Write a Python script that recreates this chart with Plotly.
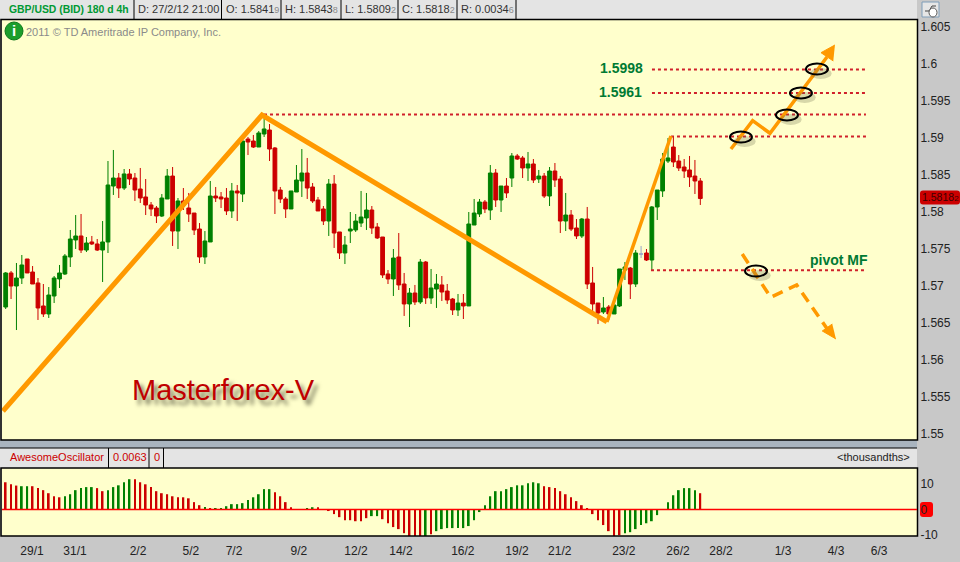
import plotly.graph_objects as go

# ---------- Data ----------
OPEN = [1.56716,1.57176,1.57000,1.57108,1.57365,1.57189,1.57041,1.56730,1.56622,1.56865,
1.57095,1.57162,1.57392,1.57622,1.57676,1.57486,1.57595,1.57568,1.57486,1.57595,
1.58351,1.58459,1.58324,1.58514,1.58459,1.58311,1.58203,1.58095,1.58054,1.57946,
1.58176,1.58486,1.57743,1.58149,1.58054,1.57986,1.57770,1.57392,1.57595,1.58216,
1.58203,1.58189,1.58014,1.58284,1.58243,1.58986,1.58959,1.58878,1.59054,1.59108,
1.58865,1.58297,1.58176,1.58041,1.58270,1.58419,1.58527,1.58338,1.58162,1.58041,
1.57878,1.58378,1.57730,1.57446,1.57743,1.57757,1.57851,1.57919,1.58027,1.57797,
1.57662,1.57162,1.57095,1.57392,1.57027,1.56757,1.56905,1.56784,1.57324,1.56838,
1.56959,1.57014,1.56932,1.56824,1.56676,1.56770,1.56730,1.57824,1.57973,1.58135,
1.58027,1.58527,1.58162,1.58351,1.58459,1.58757,1.58730,1.58595,1.58649,1.58446,
1.58486,1.58216,1.58554,1.58446,1.57878,1.57959,1.57784,1.57676,1.57905,1.57041,
1.56770,1.56649,1.56716,1.56622,1.56730,1.57216,1.57243,1.57027,1.57432,1.57446,
1.57351,1.58068,1.58284,1.58689,1.58878,1.58689,1.58608,1.58568,1.58486,1.58419]
HIGH = [1.57189,1.57203,1.57311,1.57419,1.57365,1.57270,1.57108,1.57027,1.56986,1.57135,
1.57284,1.57432,1.57757,1.57959,1.57973,1.57662,1.57676,1.57635,1.57878,1.58689,
1.58838,1.58527,1.58581,1.58581,1.58527,1.58595,1.58446,1.58135,1.58081,1.58243,
1.58581,1.58608,1.58189,1.58324,1.58257,1.57986,1.57851,1.57743,1.58419,1.58338,
1.58270,1.58324,1.58392,1.58365,1.58959,1.59014,1.59041,1.59095,1.59257,1.59189,
1.58878,1.58338,1.58203,1.58284,1.58635,1.58851,1.58730,1.58392,1.58203,1.58081,
1.58446,1.58500,1.57730,1.57676,1.58000,1.57973,1.58284,1.58257,1.58081,1.57851,
1.57662,1.57216,1.57500,1.57716,1.57176,1.56973,1.57014,1.57365,1.57338,1.57230,
1.57162,1.57135,1.57027,1.56838,1.56892,1.56892,1.58000,1.58176,1.58176,1.58162,
1.58635,1.58581,1.58351,1.58459,1.58797,1.58784,1.58757,1.58811,1.58716,1.58568,
1.58527,1.58608,1.58662,1.58486,1.58257,1.58027,1.57905,1.57919,1.58068,1.57257,
1.56770,1.56851,1.56743,1.56743,1.57230,1.57324,1.57257,1.57486,1.57541,1.57500,
1.58081,1.58297,1.58797,1.59000,1.59027,1.58770,1.58716,1.58757,1.58703,1.58459]
LOW = [1.56689,1.56824,1.56405,1.57027,1.57176,1.57027,1.56541,1.56581,1.56568,1.56770,
1.56973,1.57149,1.57257,1.57500,1.57446,1.57459,1.57554,1.57473,1.57054,1.57446,
1.58230,1.58189,1.58297,1.58365,1.58149,1.58122,1.57959,1.57946,1.57851,1.57932,
1.58176,1.57541,1.57500,1.58027,1.57865,1.57689,1.57311,1.57297,1.57595,1.58135,
1.58054,1.57959,1.57919,1.57878,1.58135,1.58770,1.58865,1.58878,1.59014,1.58689,
1.57973,1.58122,1.57919,1.58041,1.58270,1.58203,1.58176,1.58122,1.58014,1.57824,
1.57676,1.57514,1.57365,1.57297,1.57581,1.57730,1.57797,1.57757,1.57703,1.57635,
1.57108,1.57027,1.56865,1.56946,1.56595,1.56446,1.56743,1.56757,1.56757,1.56757,
1.56703,1.56797,1.56757,1.56608,1.56595,1.56554,1.56730,1.57824,1.57932,1.57986,
1.57892,1.58068,1.58000,1.58189,1.58338,1.58703,1.58459,1.58419,1.58392,1.58392,
1.58189,1.58081,1.58338,1.57716,1.57743,1.57743,1.57635,1.57649,1.56959,1.56649,
1.56486,1.56622,1.56541,1.56622,1.56716,1.57081,1.56824,1.56986,1.57378,1.57338,
1.57216,1.57892,1.58203,1.58662,1.58608,1.58554,1.58459,1.58338,1.58243,1.58095]
CLOSE = [1.57176,1.57000,1.57108,1.57284,1.57176,1.57027,1.56703,1.56622,1.56878,1.57108,
1.57176,1.57405,1.57635,1.57676,1.57486,1.57581,1.57568,1.57486,1.57595,1.58365,
1.58459,1.58324,1.58514,1.58446,1.58297,1.58189,1.58095,1.58041,1.57946,1.58189,
1.58486,1.57743,1.58149,1.58095,1.57973,1.57757,1.57392,1.57608,1.58216,1.58189,
1.58176,1.58014,1.58284,1.58257,1.58959,1.58946,1.58878,1.59068,1.59122,1.58851,
1.58284,1.58176,1.58041,1.58284,1.58432,1.58527,1.58324,1.58149,1.58014,1.57878,
1.58378,1.57716,1.57446,1.57554,1.57770,1.57878,1.57932,1.58027,1.57784,1.57649,
1.57149,1.57095,1.57378,1.57014,1.56757,1.56905,1.56784,1.57324,1.56838,1.56973,
1.57027,1.56919,1.56811,1.56676,1.56770,1.56730,1.57838,1.57986,1.58135,1.58041,
1.58527,1.58162,1.58351,1.58257,1.58757,1.58716,1.58595,1.58649,1.58432,1.58486,
1.58216,1.58554,1.58432,1.57878,1.57959,1.57770,1.57676,1.57905,1.57027,1.56757,
1.56635,1.56703,1.56622,1.56743,1.57230,1.57257,1.57027,1.57446,1.57432,1.57351,
1.58068,1.58297,1.58716,1.58730,1.58676,1.58595,1.58554,1.58473,1.58419,1.58182]
INDEX = list(range(1, len(OPEN) + 1))
DOJI_INDEX = 119

AO = [10.7,9.9,9.4,9.15,9.15,9.15,8.4,7.6,6.4,5.2,4.8,5.2,6.0,7.6,8.4,8.8,8.8,8.4,7.2,7.6,
8.8,9.5,10.7,11.9,11.9,10.7,9.9,8.8,7.2,6.4,6.0,5.2,4.8,4.8,4.4,2.9,1.7,1.0,0.5,0.5,
0.5,1.3,2.1,2.1,2.5,3.7,4.8,6.0,8.0,8.0,6.8,5.2,2.9,0.9,0,0,0.5,0.9,0.9,0.1,
-0.6,-1.8,-3.0,-4.2,-4.2,-4.6,-4.6,-3.4,-2.6,-2.6,-3.8,-5.4,-6.9,-7.7,-9.3,-10.5,-10.5,-10.5,-10.5,-9.7,
-8.5,-7.7,-7.3,-7.3,-7.3,-7.3,-6.5,-4.2,-1.0,1.7,5.2,7.2,7.2,8.0,8.8,9.5,9.5,10.3,10.7,10.3,
9.15,8.8,8.4,7.2,6.0,4.8,3.3,1.7,0.5,-1.8,-4.2,-6.1,-8.5,-10.5,-10.1,-9.3,-8.9,-7.7,-6.1,-5.4,
-4.6,-2.2,0,2.9,5.6,7.6,8.4,8.4,7.6,6.4]
AO_RUNS = [("r",3),("g",2),("r",6),("g",6),("r",2),("g",5),("r",13),("g",1),("r",1),("g",11),("r",6),
           ("g",2),("r",10),("g",2),("r",8),("g",1),("r",1),("g",20),("r",15),("g",14),("r",2)]
AO_DIR = [c for c, n in AO_RUNS for _ in range(n)]

TREND_X = [0.5, 48.6, 112.66, 124.54]
TREND_Y = [1.55311, 1.59311, 1.56514, 1.59027]

LEVELS = [(48.97, 160.76, 1.59318), (124.55, 160.76, 1.59020), (121.02, 160.76, 1.59608),
          (121.02, 160.76, 1.59926), (120.84, 160.39, 1.57212)]

UP_X = [135.69, 139.72, 142.94, 153.52]
UP_Y = [1.58851, 1.59234, 1.59064, 1.60095]
UP_HEAD_X = [155.0, 152.41, 154.69]
UP_HEAD_Y = [1.60257, 1.60153, 1.60041]

DOWN_X = [137.79, 143.07, 147.9, 153.71]
DOWN_Y = [1.57432, 1.56847, 1.57014, 1.56405]
DOWN_HEAD_X = [155.19, 152.65, 154.5]
DOWN_HEAD_Y = [1.56284, 1.56392, 1.56486]

CIRCLE_X = [137.55, 146.09, 148.69, 151.66, 140.34]
CIRCLE_Y = [1.59014, 1.59311, 1.59608, 1.59932, 1.57203]

PRICE_TICKS = [1.605, 1.6, 1.595, 1.59, 1.585, 1.58, 1.575, 1.57, 1.565, 1.56, 1.555, 1.55]
PRICE_LABELS = ["1.605", "1.6", "1.595", "1.59", "1.585", "1.58", "1.575", "1.57", "1.565", "1.56", "1.555", "1.55"]
AO_TICKS = [10, 0, -10]
DATE_TICKS = [5.89, 13.87, 25.57, 35.41, 43.4, 55.46, 66.05, 74.4, 85.9, 95.96, 103.9, 115.8,
              125.85, 133.84, 145.35, 155.2, 163.2]
DATE_LABELS = ["29/1", "31/1", "2/2", "5/2", "7/2", "9/2", "12/2", "14/2", "16/2", "19/2", "21/2",
               "23/2", "26/2", "28/2", "1/3", "4/3", "6/3"]

# ---------- Style ----------
W, H = 960, 562
FONT = "Liberation Sans"
GREEN, RED, ORANGE = "#008000", "#CC0000", "#FF9900"
DOT_RED = "#D0202A"
LABEL_GREEN = "#007A33"
BG, PANEL, HEADER = "#FFFFCC", "#C8C8C8", "#E4E4E4"
GREY_TXT, DARK = "#8A8A8A", "#333333"

def px(x): return x / W
def py(y): return 1 - y / H

shapes, annotations = [], []

def rect(x0, y0, x1, y1, fill=None, line=None, lw=1, layer="below"):
    shapes.append(dict(type="rect", xref="paper", yref="paper", x0=px(x0), x1=px(x1), y0=py(y0), y1=py(y1),
                       fillcolor=fill or "rgba(0,0,0,0)", line=dict(color=line or "rgba(0,0,0,0)", width=lw if line else 0), layer=layer))

def vline(x, y0, y1):
    shapes.append(dict(type="line", xref="paper", yref="paper", x0=px(x), x1=px(x), y0=py(y0), y1=py(y1),
                       line=dict(color="#000000", width=1), layer="above"))

def label(x, y, text, size=11, color=DARK, anchor="left", shadow=None):
    font = dict(family=FONT, size=size, color=color)
    if shadow:
        font["shadow"] = shadow
    annotations.append(dict(xref="paper", yref="paper", x=px(x), y=py(y), text=text, showarrow=False,
                            xanchor=anchor, yanchor="middle", font=font, borderpad=0))

def pill(x0, y0, x1, y1, r, fill):
    X0, X1, Y0, Y1 = px(x0), px(x1), py(y0), py(y1)
    rx, ry = r / W, r / H
    path = (f"M {X0+rx} {Y0} L {X1-rx} {Y0} Q {X1} {Y0} {X1} {Y0-ry} L {X1} {Y1+ry} Q {X1} {Y1} {X1-rx} {Y1} "
            f"L {X0+rx} {Y1} Q {X0} {Y1} {X0} {Y1+ry} L {X0} {Y0-ry} Q {X0} {Y0} {X0+rx} {Y0} Z")
    shapes.append(dict(type="path", xref="paper", yref="paper", path=path, fillcolor=fill,
                       line=dict(width=0), layer="below"))

# Chrome
rect(0, 0, 917, 19, fill=HEADER)
rect(0, 440, 917, 448, fill="#A9B4BF")
rect(0, 448, 917, 468, fill=HEADER)
for x in [134, 221.5, 281, 341, 398, 457, 516]:
    vline(x, 0, 19)
for x in [108.5, 149, 163.5]:
    vline(x, 448, 468)
rect(1, 19.5, 917.5, 440, line="#000000", lw=1.5, layer="above")
rect(1, 468, 917.5, 536, line="#000000", lw=1.5, layer="above")
shapes.append(dict(type="line", xref="paper", yref="paper", x0=0, x1=px(917), y0=py(448), y1=py(448),
                   line=dict(color="#000000", width=1), layer="above"))

# Header text
label(8, 9, "<b>GBP/USD (BID) 180 d 4h</b>", 10.4, "#009933")
small = lambda d: f"<span style='font-size:9px;color:#8a8a8a'>{d}</span>"
label(137, 9, "D: 27/2/12 21:00")
label(225, 9, "O: 1.5841" + small(9))
label(284, 9, "H: 1.5843" + small(8))
label(344, 9, "L: 1.5809" + small(2))
label(401, 9, "C: 1.5818" + small(2))
label(460, 9, "R: 0.0034" + small(6))
label(25, 32, "2011 © TD Ameritrade IP Company, Inc.", 11, GREY_TXT)
label(9, 457, "AwesomeOscillator", 11, RED)
label(112, 457, "0.0063", 11, RED)
label(153, 457, "0", 11, RED)
label(911, 457, "&lt;thousandths&gt;", 11, "#222222", anchor="right")

# Info icon
shapes.append(dict(type="circle", xref="paper", yref="paper", x0=px(5), x1=px(23), y0=py(40), y1=py(22),
                   fillcolor="#1C9E2C", line=dict(color="#0E7A1C", width=1), layer="above"))
label(14, 31, "<b>i</b>", 15, "#FFFFFF", anchor="center")

# Button in the corner
rect(922, 2, 939, 17, fill="#E6E6E6", line="#7F9DB9", lw=1)
shapes.append(dict(type="path", xref="paper", yref="paper",
                   path=f"M {px(925)} {py(11)} L {px(929)} {py(11)} L {px(932)} {py(6)} L {px(936)} {py(6)}",
                   line=dict(color="#444444", width=1), layer="below"))
shapes.append(dict(type="circle", xref="paper", yref="paper", x0=px(929), x1=px(937), y0=py(17), y1=py(8),
                   fillcolor="#FFFFFF", line=dict(color="#555555", width=1), layer="below"))

# Value badges
pill(920, 190.5, 960, 204.5, 3, RED)
label(921, 197.5, "1.5818<span style='font-size:8px'>2</span>", 10.5, "#3A0000")
pill(920, 502, 933, 517, 3, "#FF0000")

# Chart annotations
label(599, 68.5, "<b>1.5998</b>", 14, LABEL_GREEN)
label(598, 92, "<b>1.5961</b>", 14, LABEL_GREEN)
label(809, 260, "<b>pivot MF</b>", 14, LABEL_GREEN)
label(131, 390, "Masterforex-V", 29, "#C00000", shadow="4px 5px 4px #77775A")

# Ellipses, with a soft offset shadow underneath
HALF_X, HALF_Y = 2.04, 0.00074
for cx, cy in zip(CIRCLE_X, CIRCLE_Y):
    shapes.append(dict(type="circle", xref="x", yref="y", x0=cx - HALF_X + 0.7, x1=cx + HALF_X + 0.7,
                       y0=cy - HALF_Y - 0.0006, y1=cy + HALF_Y - 0.0006,
                       fillcolor="rgba(110,110,80,0.28)", line=dict(width=0), layer="above"))
    shapes.append(dict(type="circle", xref="x", yref="y", x0=cx - HALF_X, x1=cx + HALF_X,
                       y0=cy - HALF_Y, y1=cy + HALF_Y, line=dict(color="#000000", width=2), layer="above"))

# ---------- Figure ----------
fig = go.Figure()

keep = [k for k, i in enumerate(INDEX) if i != DOJI_INDEX]
pick = lambda a, idx: [a[k] for k in idx]
fig.add_trace(go.Candlestick(
    x=pick(INDEX, keep), open=pick(OPEN, keep), high=pick(HIGH, keep), low=pick(LOW, keep), close=pick(CLOSE, keep),
    increasing=dict(line=dict(color=GREEN, width=1), fillcolor=GREEN),
    decreasing=dict(line=dict(color=RED, width=1), fillcolor=RED),
    whiskerwidth=0, xaxis="x", yaxis="y", showlegend=False))
d = [INDEX.index(DOJI_INDEX)]
fig.add_trace(go.Candlestick(
    x=pick(INDEX, d), open=pick(OPEN, d), high=pick(HIGH, d), low=pick(LOW, d), close=pick(CLOSE, d),
    increasing=dict(line=dict(color="#9AA6C8", width=1), fillcolor="#9AA6C8"),
    decreasing=dict(line=dict(color="#9AA6C8", width=1), fillcolor="#9AA6C8"),
    whiskerwidth=0, xaxis="x", yaxis="y", showlegend=False))

for x0, x1, level in LEVELS:
    fig.add_trace(go.Scatter(x=[x0, x1], y=[level, level], mode="lines", xaxis="x", yaxis="y",
                             line=dict(color=DOT_RED, width=2, dash="dot"), showlegend=False))

fig.add_trace(go.Scatter(x=TREND_X[:3], y=TREND_Y[:3], mode="lines", xaxis="x", yaxis="y",
                         line=dict(color=ORANGE, width=5, simplify=False), showlegend=False))
fig.add_trace(go.Scatter(x=TREND_X[2:], y=TREND_Y[2:], mode="lines", xaxis="x", yaxis="y",
                         line=dict(color=ORANGE, width=3.5), showlegend=False))
fig.add_trace(go.Scatter(x=UP_X, y=UP_Y, mode="lines", xaxis="x", yaxis="y",
                         line=dict(color=ORANGE, width=3.5), showlegend=False))
fig.add_trace(go.Scatter(x=UP_HEAD_X, y=UP_HEAD_Y, mode="lines", fill="toself", fillcolor=ORANGE,
                         xaxis="x", yaxis="y", line=dict(color=ORANGE, width=1), showlegend=False))
fig.add_trace(go.Scatter(x=DOWN_X, y=DOWN_Y, mode="lines", xaxis="x", yaxis="y",
                         line=dict(color=ORANGE, width=3.5, dash="11px,7px"), showlegend=False))
fig.add_trace(go.Scatter(x=DOWN_HEAD_X, y=DOWN_HEAD_Y, mode="lines", fill="toself", fillcolor=ORANGE,
                         xaxis="x", yaxis="y", line=dict(color=ORANGE, width=1), showlegend=False))

fig.add_trace(go.Bar(x=INDEX, y=AO, marker=dict(color=[GREEN if c == "g" else RED for c in AO_DIR], line=dict(width=0)),
                     width=0.33, xaxis="x2", yaxis="y2", showlegend=False))

shapes.append(dict(type="line", xref="x2", yref="y2", x0=0.32, x1=170.24, y0=0, y1=0,
                   line=dict(color="#FF0000", width=1.5), layer="above"))

X_RANGE = [0.3185, 170.24]
DOMAIN_X = [px(2), px(917)]
tickfont = dict(family=FONT, size=12, color="#222222")
fig.update_layout(
    width=W, height=H, autosize=False, margin=dict(l=0, r=0, t=0, b=0, autoexpand=False),
    paper_bgcolor=PANEL, plot_bgcolor=BG, showlegend=False, hovermode=False,
    boxmode="overlay", boxgap=0.3, boxgroupgap=0,
    shapes=shapes, annotations=annotations,
    xaxis=dict(domain=DOMAIN_X, range=X_RANGE, anchor="y", automargin=False, showticklabels=False, showgrid=False, zeroline=False,
               ticks="", rangeslider=dict(visible=False)),
    yaxis=dict(domain=[py(440), py(19.5)], range=[1.6 - 376 / 7400, 1.6 + 44.5 / 7400], anchor="x", side="right", automargin=False,
               tickmode="array", tickvals=PRICE_TICKS, ticktext=PRICE_LABELS, showgrid=False, zeroline=False,
               ticks="outside", ticklen=0, tickcolor=PANEL, tickfont=tickfont),
    xaxis2=dict(domain=DOMAIN_X, range=X_RANGE, anchor="y2", automargin=False, tickmode="array", tickvals=DATE_TICKS, ticktext=DATE_LABELS,
                showgrid=False, zeroline=False, ticks="outside", ticklen=4, tickcolor=PANEL, tickfont=tickfont,
                tickangle=0),
    yaxis2=dict(domain=[py(536), py(468)], range=[-10.4, 16.3], anchor="x2", side="right", automargin=False, tickmode="array",
                tickvals=AO_TICKS, ticktext=[str(v) for v in AO_TICKS], showgrid=False, zeroline=False,
                ticks="outside", ticklen=0, tickcolor="rgba(0,0,0,0)", tickfont=tickfont),
)

fig.write_html("out.html", config={"displayModeBar": False},
               post_script="document.body.style.margin='0';document.documentElement.style.overflow='hidden';")
